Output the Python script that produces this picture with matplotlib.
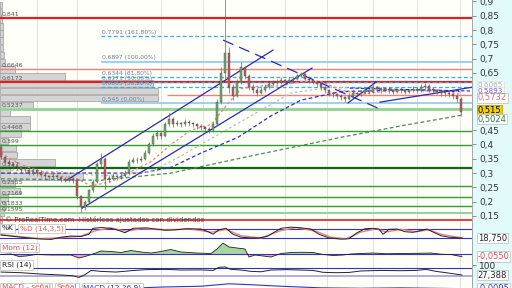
import matplotlib
matplotlib.use("Agg")
import matplotlib.pyplot as plt
from matplotlib.ticker import FuncFormatter

# ---- price sessions (oldest first) ----
closes = [0.355, 0.34, 0.33, 0.325, 0.32, 0.31,
          0.31, 0.30, 0.31, 0.30, 0.295, 0.29, 0.285, 0.29,
          0.285, 0.28, 0.275, 0.28, 0.275,
          0.22, 0.18, 0.20, 0.24, 0.27, 0.33, 0.35, 0.28, 0.28, 0.29, 0.285, 0.29, 0.30, 0.34, 0.345, 0.345, 0.35,
          0.37, 0.40, 0.43, 0.44, 0.43, 0.47, 0.49, 0.47, 0.475, 0.47, 0.48, 0.475, 0.47, 0.465, 0.46, 0.455, 0.45, 0.47,
          0.55, 0.65, 0.72, 0.60, 0.57, 0.62, 0.67, 0.64, 0.60, 0.59, 0.58, 0.59, 0.60, 0.61, 0.615, 0.62, 0.625, 0.62,
          0.625, 0.63, 0.64, 0.645,
          0.63, 0.625, 0.62, 0.61, 0.60, 0.59, 0.58, 0.575, 0.57, 0.565, 0.56, 0.57, 0.58, 0.575, 0.58, 0.59, 0.585,
          0.60, 0.595,
          0.59, 0.595, 0.59, 0.585, 0.59, 0.59, 0.585, 0.59, 0.595, 0.59, 0.60, 0.605, 0.595, 0.59, 0.585, 0.58, 0.58,
          0.575, 0.57, 0.56, 0.515]
highs = [0.40, 0.36, 0.35, 0.34, 0.335, 0.325,
         0.32, 0.315, 0.32, 0.315, 0.31, 0.30, 0.295, 0.30,
         0.295, 0.29, 0.285, 0.29, 0.285,
         0.28, 0.225, 0.205, 0.245, 0.28, 0.34, 0.37, 0.355, 0.295, 0.30, 0.295, 0.30, 0.31, 0.35, 0.355, 0.355, 0.36,
         0.38, 0.41, 0.44, 0.45, 0.445, 0.48, 0.51, 0.495, 0.485, 0.48, 0.49, 0.485, 0.48, 0.475, 0.47, 0.465, 0.46, 0.48,
         0.56, 0.67, 0.93, 0.74, 0.61, 0.63, 0.69, 0.675, 0.645, 0.61, 0.60, 0.60, 0.61, 0.62, 0.625, 0.63, 0.635, 0.63,
         0.635, 0.64, 0.65, 0.655,
         0.65, 0.635, 0.63, 0.625, 0.615, 0.605, 0.595, 0.585, 0.58, 0.575, 0.57, 0.58, 0.59, 0.585, 0.59, 0.60, 0.595,
         0.61, 0.605,
         0.60, 0.60, 0.60, 0.595, 0.595, 0.60, 0.595, 0.595, 0.605, 0.60, 0.61, 0.615, 0.61, 0.60, 0.595, 0.59, 0.59,
         0.585, 0.58, 0.575, 0.565]
lows = [0.35, 0.33, 0.325, 0.315, 0.31, 0.30,
        0.30, 0.295, 0.295, 0.29, 0.285, 0.28, 0.275, 0.28,
        0.275, 0.27, 0.27, 0.27, 0.265,
        0.21, 0.165, 0.17, 0.195, 0.235, 0.265, 0.32, 0.245, 0.27, 0.275, 0.275, 0.28, 0.285, 0.295, 0.335, 0.335, 0.34,
        0.345, 0.365, 0.395, 0.42, 0.42, 0.425, 0.465, 0.46, 0.465, 0.46, 0.465, 0.465, 0.46, 0.455, 0.45, 0.445, 0.44,
        0.445,
        0.465, 0.54, 0.63, 0.58, 0.555, 0.565, 0.61, 0.63, 0.59, 0.58, 0.57, 0.575, 0.585, 0.595, 0.605, 0.61, 0.61,
        0.61, 0.615, 0.615, 0.625, 0.635,
        0.625, 0.615, 0.61, 0.60, 0.59, 0.58, 0.57, 0.565, 0.56, 0.555, 0.55, 0.555, 0.565, 0.565, 0.57, 0.575, 0.575,
        0.58, 0.585,
        0.58, 0.585, 0.58, 0.575, 0.58, 0.58, 0.575, 0.58, 0.585, 0.58, 0.585, 0.595, 0.585, 0.58, 0.575, 0.57, 0.57,
        0.565, 0.56, 0.55, 0.50]
opens = [0.39] + closes[:-1]
sessions = list(range(len(closes)))

# ---- moving averages (session, price) ----
ma_fast_x = [0, 5, 10, 15, 19, 22.5, 27.5, 32.5, 37.5, 42.5, 47.5, 52.5, 56, 60, 65, 70, 75, 80, 85, 90, 95, 100,
             105, 110, 115]
ma_fast_y = [0.37, 0.33, 0.305, 0.29, 0.28, 0.255, 0.27, 0.305, 0.34, 0.40, 0.45, 0.47, 0.53, 0.595, 0.605, 0.605,
             0.62, 0.62, 0.59, 0.575, 0.585, 0.59, 0.59, 0.59, 0.575]
ma_mid_x = [0, 15, 25, 37.5, 45, 55, 65, 72.5, 82.5, 100, 115]
ma_mid_y = [0.31, 0.305, 0.29, 0.305, 0.36, 0.44, 0.52, 0.58, 0.60, 0.59, 0.585]
ma_slow_x = [0, 35, 42.5, 50, 59.25, 67.5, 75, 85, 100, 115]
ma_slow_y = [0.30, 0.30, 0.32, 0.37, 0.425, 0.50, 0.555, 0.585, 0.59, 0.585]
ma_long_x = [0, 25, 42.5, 62.5, 85, 100, 115]
ma_long_y = [0.28, 0.275, 0.30, 0.36, 0.425, 0.465, 0.502]

# ---- drawn levels ----
level_prices = [0.841, 0.6646, 0.6172, 0.5237, 0.4468, 0.399, 0.317, 0.2555, 0.2169, 0.1833, 0.1595]
level_labels = ["0,841", "0,6646", "0,6172", "0,5237", "0,4468", "0,399", "0,317", "0,2555", "0,2169", "0,1833",
                "0,1595"]
fib_prices = [0.7791, 0.6897, 0.6344, 0.6173, 0.6003, 0.545]
fib_labels = ["0,7791 (161,80%)", "0,6897 (100,00%)", "0,6344 (61,80%)", "0,6173 (50,00%)", "0,6003 (38,20%)",
              "0,545 (0,00%)"]
resist_price = 0.5732
bottom_price = 0.136

# trend lines: (session0, price0, session1, price1)
channel_up = [(16.5, 0.2755, 68, 0.73), (20.25, 0.177, 77.75, 0.667)]
downtrend = (55.5, 0.765, 94.25, 0.527)
short_lines = [(86.75, 0.545, 93.75, 0.618), (94.75, 0.548, 117.75, 0.60)]
short_dashed = (87.25, 0.597, 117.25, 0.587)

# ---- volume at price ----
vp_price = [0.1375, 0.1625, 0.1875, 0.2125, 0.2375, 0.2625, 0.2875, 0.3125, 0.3375, 0.3625, 0.3875, 0.4125,
            0.4375, 0.4625, 0.4875, 0.5125, 0.5375, 0.5625, 0.5875, 0.6125, 0.6375, 0.6625, 0.6875, 0.7125,
            0.7375, 0.7625, 0.7875, 0.8125, 0.8375, 0.8625, 0.8875]
vp_volume = [2, 4, 6, 8, 20, 15, 83, 10, 55, 17, 16, 8, 21, 30, 30, 10, 33, 158, 158, 153, 65, 15, 5, 4, 3, 3, 3,
             3, 2, 2, 2]

# ---- indicators ----
stk_x = [0, 2.5, 5, 8.75, 12.5, 15, 17.5, 20, 22, 23, 25, 27.5, 29.5, 31, 33, 36.25, 38.75, 41.25, 43.75, 46.25,
         50, 52, 53, 54.5, 56.25, 58, 60, 62.5, 64.5, 66.5, 70, 72.5, 75, 77.5, 79.5, 82, 85, 87, 89, 91, 93, 94.5,
         95.5, 97, 99, 101, 103, 105, 106.5, 108, 110, 112, 113.75, 115.25]
stk_k = [40, 33, 25, 15, 10, 25, 33, 30, 45, 85, 90, 85, 70, 55, 85, 88, 80, 72, 75, 82, 80, 60, 45, 75, 85, 45, 25,
         20, 20, 30, 85, 93, 88, 80, 45, 20, 12, 15, 55, 82, 85, 80, 45, 78, 80, 62, 58, 70, 80, 60, 35, 25, 22, 19]
std_x = [0, 5, 10, 15, 20, 23.75, 27.5, 31.25, 35, 41.25, 47.5, 52.5, 56.25, 60, 65, 70, 73.75, 78.75, 82.5, 86.25,
         90, 93.75, 96.25, 100, 103.75, 107, 110, 113.75, 115.25]
std_d = [42, 28, 15, 22, 32, 70, 87, 65, 82, 75, 80, 58, 78, 35, 20, 70, 90, 65, 25, 14, 60, 82, 60, 78, 62, 75, 45,
         27, 22]
mom_x = [0, 2.5, 4.5, 6.25, 8.75, 12.5, 17.5, 19.5, 21, 23, 25, 27.5, 30, 32.5, 35, 37.5, 40, 42.5, 45, 48.75, 52.5,
         54, 55.5, 57, 59, 61, 62, 63.5, 65.5, 67.5, 70, 72.5, 75, 78, 80.5, 83, 85.5, 87.5, 90, 93, 96.25, 100, 105,
         107.5, 110, 112.5, 115.25]
mom_v = [-0.01, 0.0, -0.05, -0.04, -0.01, -0.02, -0.02, -0.08, -0.05, 0.0, 0.06, 0.05, 0.03, 0.07, 0.04, 0.02, 0.05,
         0.09, 0.04, 0.02, 0.01, 0.10, 0.22, 0.14, 0.12, 0.10, -0.06, -0.02, -0.04, -0.06, 0.01, 0.03, 0.035, 0.03,
         -0.01, -0.03, -0.02, 0.0, 0.01, 0.02, 0.005, 0.01, 0.015, 0.02, -0.005, -0.01, -0.055]
rsi_x = [0, 5, 10, 15, 18, 19.5, 21, 22.5, 25, 28.75, 32.5, 36.25, 41.25, 45, 50, 53, 54.5, 56, 57.5, 60, 62.5, 65,
         67.5, 71.25, 75, 78, 80.5, 83.75, 87, 90, 95, 100, 103.75, 106.25, 108.75, 112, 115.25]
rsi_v = [50, 45, 35, 28, 22, 10, 30, 62, 55, 50, 60, 68, 70, 65, 66, 62, 85, 88, 70, 65, 55, 52, 65, 68, 65, 62, 48,
         45, 47, 58, 62, 60, 62, 70, 55, 42, 27.4]
macd_x = [0, 20, 30, 40, 50, 57, 62, 70, 80, 90, 100, 115]
macd_v = [-0.02, -0.03, -0.01, 0.01, 0.02, 0.05, 0.04, 0.02, 0.0, -0.005, 0.0, -0.0095]

grid_sessions = [9, 19, 40, 50.5, 71, 81.5, 93, 104, 114.75]

# ---------------------------------------------------------------
W, H = 512, 288
X0, X1 = -0.25, 117.75
PX = (X1 - X0) / 472.0   # sessions per pixel


def panel(top, bottom):
    a = fig.add_axes([0, 1 - bottom / H, 472 / W, (bottom - top) / H])
    a.set_facecolor("#FFFFFA")
    a.set_xlim(X0, X1)
    a.set_xticks([])
    for s in ("left", "top", "bottom"):
        a.spines[s].set_visible(False)
    a.spines["right"].set_color("#999999")
    a.spines["right"].set_linewidth(0.6)
    a.yaxis.tick_right()
    a.tick_params(axis="y", length=3, width=0.5, colors="#666666", labelsize=6.5, labelcolor="#333333", pad=2)
    for g in grid_sessions:
        a.axvline(g, color="#DDDDDD", lw=0.6, zorder=0)
    return a


def comma(v, _=None):
    return ("%.2f" % v).rstrip("0").replace(".", ",")


fig = plt.figure(figsize=(5.12, 2.88), dpi=100)
fig.patch.set_facecolor("#E2FAFA")
renderer = fig.canvas.get_renderer()

ax = panel(0, 224)
ax.set_ylim(0.122, 0.905)
ax.set_yticks([0.15, 0.2, 0.25, 0.3, 0.35, 0.4, 0.45, 0.65, 0.7, 0.75, 0.8, 0.85, 0.9])
ax.yaxis.set_major_formatter(FuncFormatter(comma))
ax.spines["bottom"].set_visible(True)
ax.spines["bottom"].set_color("#AAAAAA")
ax.spines["bottom"].set_linewidth(0.6)

# volume at price on the left edge
ax.barh(vp_price, [v * PX for v in vp_volume], height=0.023, left=X0, color="#D4D4D4",
        edgecolor="#9A9A9A", linewidth=0.5, zorder=1)

# horizontal levels
lvl_style = {0.841: ("#E02020", 1.6), 0.6646: ("#F08080", 1.0), 0.6172: ("#E02020", 1.6),
             0.5237: ("#9AD29A", 2.2), 0.317: ("#106610", 1.6), 0.1595: ("#9AD29A", 1.5)}
for p, lab in zip(level_prices, level_labels):
    col, lw = lvl_style.get(p, ("#2E9E2E", 1.0))
    ax.axhline(p, color=col, lw=lw, zorder=2)
    ax.text(0.2, p + 0.004, lab, fontsize=4.5, color="#555555", va="bottom", ha="left", zorder=6)
ax.hlines(resist_price, 41.5, X1, color="#F08080", lw=1.0, zorder=2)
ax.axhline(bottom_price, color="#E02020", lw=1.2, zorder=2)

for p, lab in zip(fib_prices, fib_labels):
    if lab.endswith("(100,00%)") or lab.endswith("(0,00%)"):
        ax.hlines(p, 25, X1, color="#8CC8EE", lw=1.2, zorder=2)
    else:
        ax.hlines(p, 25, X1, color="#33AAEE", lw=0.9, linestyles=(0, (3, 2)), zorder=2)
    ax.text(25.3, p + 0.004, lab, fontsize=4.3, color="#6A7F9A", va="bottom", ha="left", zorder=6)

# moving averages
ax.plot(ma_long_x, ma_long_y, color="#4A8A5A", lw=0.9, dashes=(3, 2), zorder=3)
ax.plot(ma_slow_x, ma_slow_y, color="#3030C0", lw=0.9, dashes=(3, 2), zorder=3)
ax.plot(ma_mid_x, ma_mid_y, color="#BBBBBB", lw=0.9, dashes=(2, 2), zorder=3)
ax.plot(ma_fast_x, ma_fast_y, color="#F08080", lw=0.9, dashes=(2, 2), zorder=3)

# trend lines
for x0, y0, x1, y1 in channel_up + short_lines:
    ax.plot([x0, x1], [y0, y1], color="#2A2AB0", lw=0.9, zorder=4)
ax.plot([downtrend[0], downtrend[2]], [downtrend[1], downtrend[3]], color="#2A2AB0", lw=0.9,
        dashes=(9, 5), zorder=4)
ax.plot([short_dashed[0], short_dashed[2]], [short_dashed[1], short_dashed[3]], color="#2A2AB0", lw=0.8,
        dashes=(3, 2), zorder=4)

# candles
ax.vlines(sessions, lows, highs, color="#666666", lw=0.5, zorder=4)
bodies_b = [min(o, c) for o, c in zip(opens, closes)]
bodies_h = [max(abs(c - o), 0.002) for o, c in zip(opens, closes)]
colors = ["#6FAF6F" if c >= o else "#CC5A5A" for o, c in zip(opens, closes)]
ax.bar(sessions, bodies_h, bottom=bodies_b, width=0.65, color=colors, edgecolor="#444444",
       linewidth=0.3, zorder=5)

ax.text(0.01, 0.004, "© ProRealTime.com  Históricos ajustados con dividendos", transform=ax.transAxes,
        fontsize=5, color="#444444", va="bottom", ha="left", zorder=7)


def tag(a, y, t, fc, bg="white", size=6.0, edge="#BBBBBB"):
    a.text(1.012, y, t, transform=a.get_yaxis_transform(), fontsize=size, color=fc, va="center", ha="left",
           clip_on=False, zorder=8, bbox=dict(boxstyle="square,pad=0.1", fc=bg, ec=edge, lw=0.5))


# price labels on the right axis (stacked like the platform does)
tag(ax, 0.608, "0,6065", "#AAAAAA", size=5.2, edge="#DDDDDD")
tag(ax, 0.588, "0,5893", "#6666CC", size=5.2, edge="#DDDDDD")
tag(ax, 0.563, "0,5732", "#E07070")
tag(ax, 0.520, "0,515", "black", bg="#F5D000", edge="#B09000")
tag(ax, 0.489, "0,5024", "#2E7E3E")


def title(a, parts):
    x = 0.004
    for t, c in parts:
        txt = a.text(x, 0.93, t, transform=a.transAxes, fontsize=5.3, color=c, va="top", ha="left", zorder=8,
                     bbox=dict(boxstyle="square,pad=0.2", fc="white", ec="#BBBBBB", lw=0.5))
        w = txt.get_window_extent(renderer).width
        x += (w + 6) / a.bbox.width


# stochastic
ax_st = panel(224, 243)
ax_st.set_ylim(-14, 114)
ax_st.set_yticks([])
ax_st.axhline(80, color="#3333CC", lw=0.8)
ax_st.axhline(20, color="#3333CC", lw=0.8)
ax_st.plot(std_x, std_d, color="#F08080", lw=1.0)
ax_st.plot(stk_x, stk_k, color="#222222", lw=0.7)
title(ax_st, [("%K", "#222222"), ("%D (14,3,5)", "#E06060")])
tag(ax_st, 18.75, "18,750", "#222222")

# momentum
ax_mo = panel(243, 260)
ax_mo.set_ylim(-0.12, 0.22)
ax_mo.set_yticks([])
ax_mo.fill_between(mom_x, mom_v, 0, where=[v >= 0 for v in mom_v], interpolate=True, color="#A8D4A0", lw=0)
ax_mo.fill_between(mom_x, mom_v, 0, where=[v < 0 for v in mom_v], interpolate=True, color="#F2AAAA", lw=0)
ax_mo.axhline(0, color="#3333CC", lw=0.8)
ax_mo.plot(mom_x, mom_v, color="#222222", lw=0.6)
title(ax_mo, [("Mom (12)", "#E05050")])
tag(ax_mo, -0.055, "-0,0550", "#E05050")

# RSI
ax_rsi = panel(260, 283)
ax_rsi.set_ylim(-32, 140)
ax_rsi.set_yticks([100])
ax_rsi.set_yticklabels(["100"])
ax_rsi.axhline(80, color="#3333CC", lw=0.8)
ax_rsi.axhline(20, color="#A0A0E0", lw=1.2)
ax_rsi.plot(rsi_x, rsi_v, color="#222222", lw=0.7)
title(ax_rsi, [("RSI (14)", "#222222")])
tag(ax_rsi, 27.388, "27,388", "#222222")

# MACD (cut off at the bottom)
ax_macd = panel(283, 300)
ax_macd.set_ylim(-0.15, 0.06)
ax_macd.set_yticks([])
ax_macd.plot(macd_x, macd_v, color="#3333CC", lw=0.8)
title(ax_macd, [("MACD - señal", "#E05050"), ("Señal", "#E05050"), ("MACD (12,26,9)", "#3333CC")])
tag(ax_macd, -0.0095, "-0,0095", "#3333CC")

fig.savefig("out.png", dpi=100, facecolor=fig.get_facecolor())
